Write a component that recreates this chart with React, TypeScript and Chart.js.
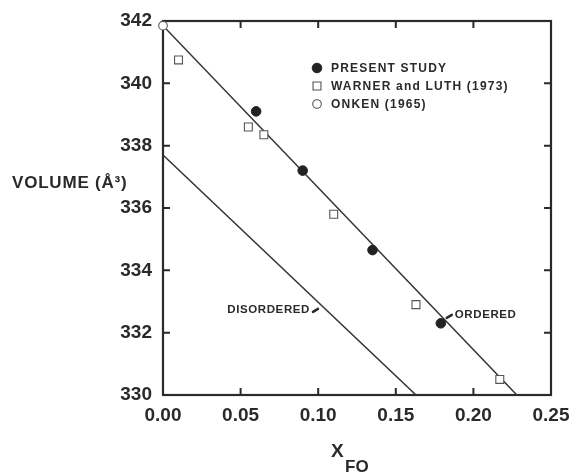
import React, { useEffect, useRef } from 'react';
import { Chart, registerables } from 'chart.js';

Chart.register(...registerables);

// ---- data ----
const presentStudyX = [0.06, 0.09, 0.135, 0.179];
const presentStudyY = [339.1, 337.2, 334.65, 332.3];

const warnerLuthX = [0.01, 0.055, 0.065, 0.11, 0.163, 0.217];
const warnerLuthY = [340.75, 338.6, 338.35, 335.8, 332.9, 330.5];

const onkenX = [0.0];
const onkenY = [341.85];

const orderedLineX = [0.0, 0.228];
const orderedLineY = [341.85, 330.0];

const disorderedLineX = [0.0, 0.163];
const disorderedLineY = [337.7, 330.0];

const xMin = 0;
const xMax = 0.25;
const xStep = 0.05;
const yMin = 330;
const yMax = 342;
const yStep = 2;

const annotationTexts = ['DISORDERED', 'ORDERED'];
const annotationX = [0.0947, 0.188];
const annotationY = [332.73, 332.57];

const yTitle = 'VOLUME (Å³)';
const xTitleMain = 'X';
const xTitleSub = 'FO';

const INK = '#2a2a2a';
const FONT = '"Liberation Sans", Arial, Helvetica, sans-serif';

const pts = (xs: number[], ys: number[]) => xs.map((x, i) => ({ x, y: ys[i] }));

function drawMarker(ctx: CanvasRenderingContext2D, style: string, x: number, y: number, r: number, fill: string, stroke: string, lw: number) {
  ctx.save();
  ctx.beginPath();
  if (style === 'rect') {
    const s = Math.SQRT1_2 * r;
    ctx.rect(x - s, y - s, 2 * s, 2 * s);
  } else {
    ctx.arc(x, y, r, 0, Math.PI * 2);
  }
  ctx.fillStyle = fill;
  ctx.fill();
  ctx.lineWidth = lw;
  ctx.strokeStyle = stroke;
  ctx.stroke();
  ctx.restore();
}

const framePlugin = {
  id: 'frame',
  beforeDatasetsDraw(chart: any) {
    const { ctx, chartArea: a, scales } = chart;
    ctx.save();
    ctx.strokeStyle = INK;
    ctx.lineWidth = 2.2;
    ctx.strokeRect(a.left, a.top, a.right - a.left, a.bottom - a.top);
    const tl = 7;
    ctx.lineWidth = 2;
    scales.x.ticks.forEach((t: any) => {
      const px = scales.x.getPixelForValue(t.value);
      if (Math.abs(px - a.left) < 2 || Math.abs(px - a.right) < 2) return;
      ctx.beginPath();
      ctx.moveTo(px, a.bottom);
      ctx.lineTo(px, a.bottom - tl);
      ctx.moveTo(px, a.top);
      ctx.lineTo(px, a.top + tl);
      ctx.stroke();
    });
    scales.y.ticks.forEach((t: any) => {
      const py = scales.y.getPixelForValue(t.value);
      if (Math.abs(py - a.top) < 2 || Math.abs(py - a.bottom) < 2) return;
      ctx.beginPath();
      ctx.moveTo(a.left, py);
      ctx.lineTo(a.left + tl, py);
      ctx.moveTo(a.right, py);
      ctx.lineTo(a.right - tl, py);
      ctx.stroke();
    });
    ctx.restore();
  },
  afterDraw(chart: any) {
    const { ctx, chartArea: a, scales } = chart;
    ctx.save();
    ctx.fillStyle = INK;
    ctx.strokeStyle = INK;
    ctx.textBaseline = 'middle';

    // legend
    const lx = a.left + 154;
    const ly = a.top + 47;
    const dsList = chart.data.datasets.slice(0, 3);
    dsList.forEach((ds: any, i: number) => {
      const y = ly + i * 18;
      drawMarker(ctx, ds.pointStyle, lx, y, ds.pointRadius, ds.backgroundColor, ds.borderColor, ds.borderWidth);
      ctx.font = `bold 12px ${FONT}`;
      (ctx as any).letterSpacing = '1.2px';
      ctx.textAlign = 'left';
      ctx.fillStyle = INK;
      ctx.fillText(ds.label, lx + 14, y + 1);
    });

    // annotations
    ctx.font = `bold 11.5px ${FONT}`;
    (ctx as any).letterSpacing = '0.6px';
    annotationTexts.forEach((txt, i) => {
      const px = scales.x.getPixelForValue(annotationX[i]);
      const py = scales.y.getPixelForValue(annotationY[i]);
      ctx.lineWidth = 2.5;
      ctx.lineCap = 'round';
      ctx.beginPath();
      if (i === 0) {
        ctx.textAlign = 'right';
        ctx.fillText(txt, px, py);
        ctx.moveTo(px + 3, py + 2);
        ctx.lineTo(px + 8, py - 1);
      } else {
        ctx.textAlign = 'left';
        ctx.fillText(txt, px, py);
        ctx.moveTo(px - 8, py + 3);
        ctx.lineTo(px - 3, py);
      }
      ctx.stroke();
    });

    // y title (horizontal)
    ctx.font = `bold 17px ${FONT}`;
    (ctx as any).letterSpacing = '0.8px';
    ctx.textAlign = 'left';
    ctx.fillText(yTitle, 12, scales.y.getPixelForValue(336.8));

    // x title with subscript
    (ctx as any).letterSpacing = '0px';
    ctx.font = `bold 19px ${FONT}`;
    const cx = (a.left + a.right) / 2;
    ctx.fillText(xTitleMain, cx - 26, 452);
    ctx.font = `bold 17px ${FONT}`;
    ctx.fillText(xTitleSub, cx - 12, 467);
    ctx.restore();
  },
};

export default function App() {
  const ref = useRef<HTMLCanvasElement>(null);
  useEffect(() => {
    document.body.style.margin = '0';
    const chart = new Chart(ref.current as HTMLCanvasElement, {
      type: 'scatter',
      data: {
        datasets: [
          {
            label: 'PRESENT STUDY',
            data: pts(presentStudyX, presentStudyY),
            pointStyle: 'circle',
            pointRadius: 4.8,
            backgroundColor: '#222',
            borderColor: '#222',
            borderWidth: 1,
            clip: false,
          },
          {
            label: 'WARNER and LUTH (1973)',
            data: pts(warnerLuthX, warnerLuthY),
            pointStyle: 'rect',
            pointRadius: 5.6,
            backgroundColor: '#ffffff',
            borderColor: '#555',
            borderWidth: 1.1,
            clip: false,
          },
          {
            label: 'ONKEN (1965)',
            data: pts(onkenX, onkenY),
            pointStyle: 'circle',
            pointRadius: 4.3,
            backgroundColor: '#ffffff',
            borderColor: '#555',
            borderWidth: 1.1,
            clip: false,
          },
          {
            label: 'ordered',
            data: pts(orderedLineX, orderedLineY),
            showLine: true,
            pointRadius: 0,
            borderColor: '#333',
            borderWidth: 1.5,
            backgroundColor: '#333',
          },
          {
            label: 'disordered',
            data: pts(disorderedLineX, disorderedLineY),
            showLine: true,
            pointRadius: 0,
            borderColor: '#333',
            borderWidth: 1.5,
            backgroundColor: '#333',
          },
        ],
      },
      options: {
        responsive: false,
        devicePixelRatio: 1,
        animation: false,
        layout: { padding: { top: 21, right: 20, left: 0, bottom: 0 } },
        plugins: {
          legend: { display: false },
          tooltip: { enabled: false },
        },
        scales: {
          x: {
            type: 'linear',
            min: xMin,
            max: xMax,
            grid: { display: false, drawTicks: false },
            border: { display: false },
            ticks: {
              stepSize: xStep,
              padding: 9,
              color: INK,
              font: { family: FONT, size: 19, weight: 'bold' },
              maxRotation: 0,
              callback: (v: any) => Number(v).toFixed(2),
            },
            afterFit: (s: any) => { s.height = 77; s.paddingLeft = 0; s.paddingRight = 0; },
          },
          y: {
            type: 'linear',
            min: yMin,
            max: yMax,
            grid: { display: false, drawTicks: false },
            border: { display: false },
            ticks: {
              stepSize: yStep,
              padding: 11,
              color: INK,
              font: { family: FONT, size: 19, weight: 'bold' },
              callback: (v: any) => String(v),
            },
            afterFit: (s: any) => { s.width = 163; s.paddingTop = 0; s.paddingBottom = 0; },
          },
        },
      },
      plugins: [framePlugin],
    } as any);
    return () => chart.destroy();
  }, []);
  return (
    <div style={{ width: 571, height: 472 }}>
      <canvas ref={ref} width={571} height={472} style={{ display: 'block' }} />
    </div>
  );
}
